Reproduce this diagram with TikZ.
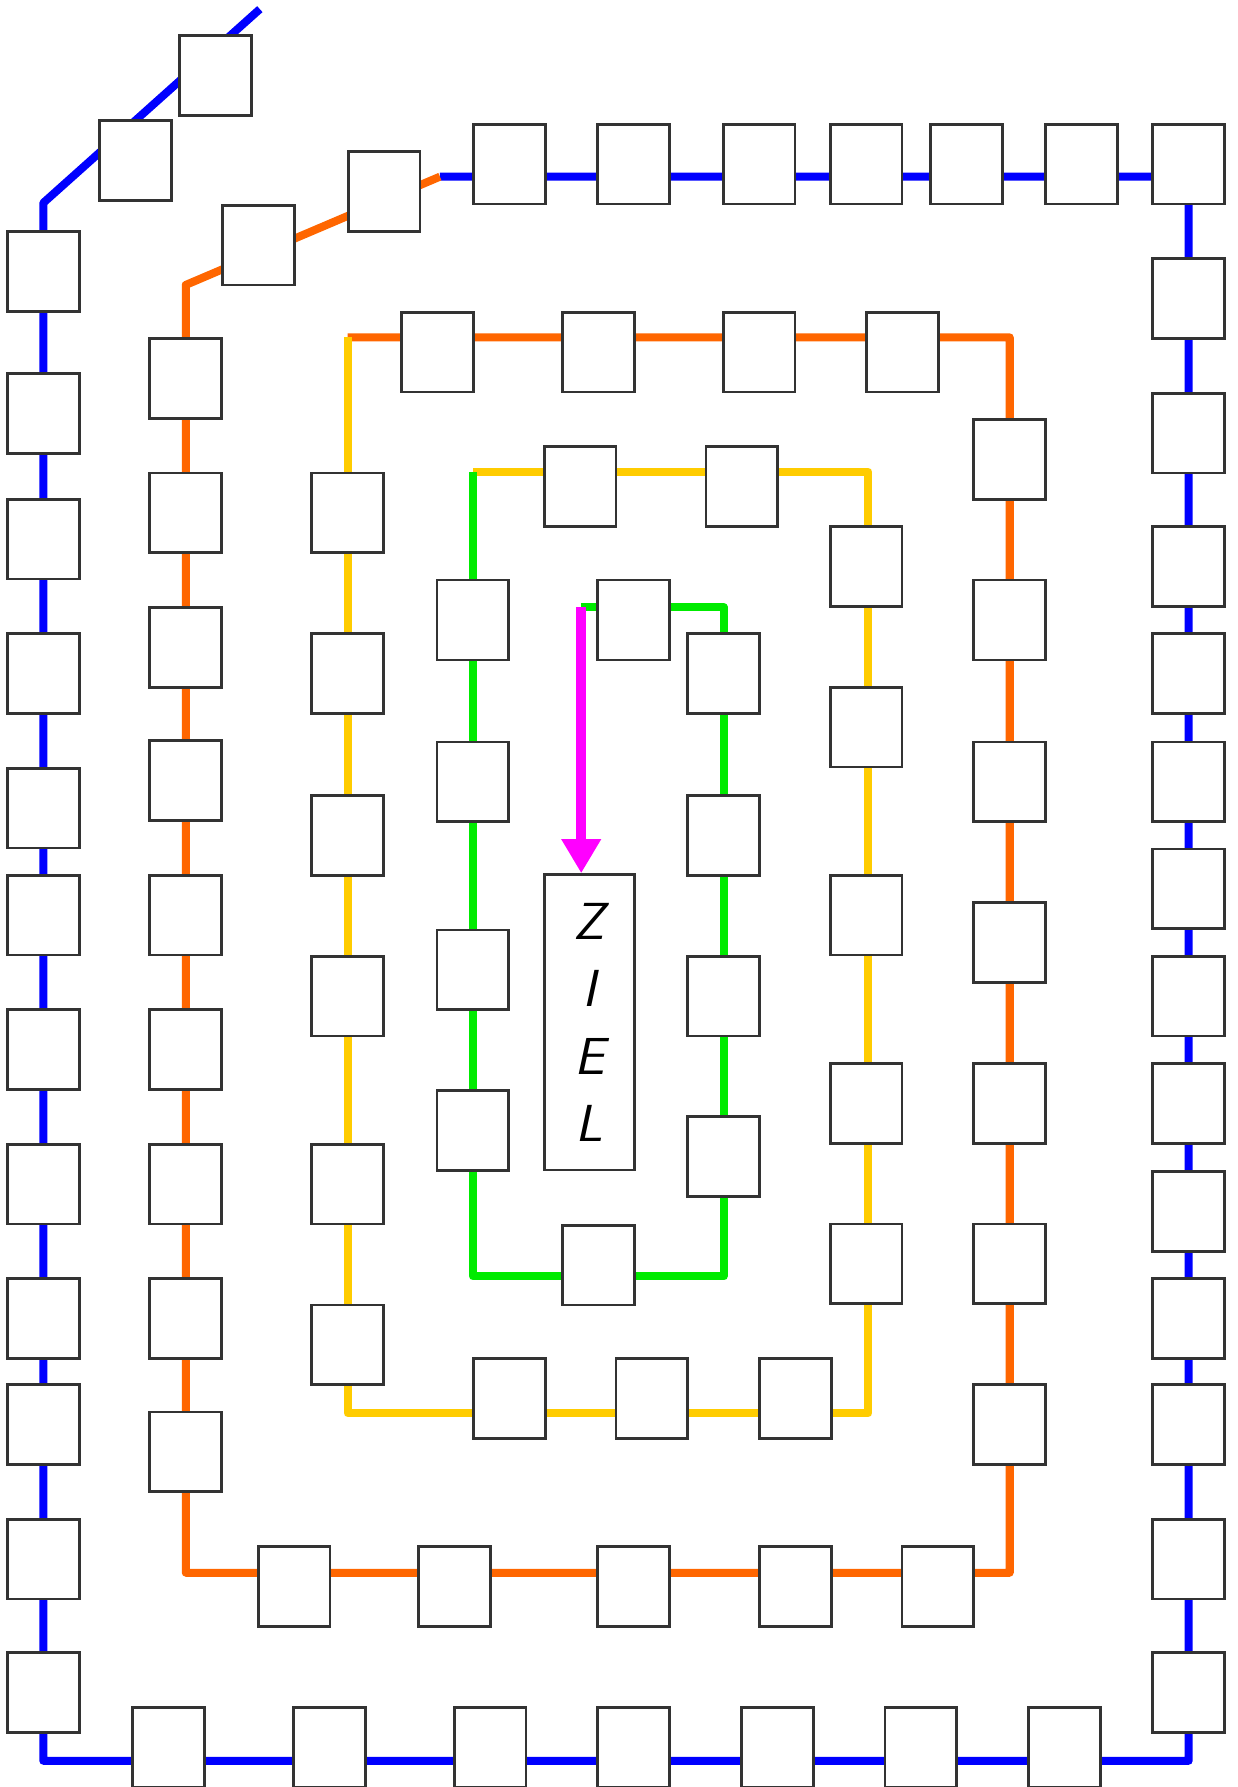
\documentclass[tikz,border=0pt]{standalone}
\usepackage{tikz}
\usetikzlibrary{arrows.meta}
\definecolor{bahnblau}{RGB}{0,0,255}
\definecolor{bahnorange}{RGB}{255,102,0}
\definecolor{bahngelb}{RGB}{255,204,0}
\definecolor{bahngruen}{RGB}{0,235,0}
\definecolor{zielpink}{RGB}{255,0,255}

\begin{document}
\begin{tikzpicture}[x=0.01cm,y=-0.01cm,
    feld/.style={draw=black!80,line width=0.7pt,fill=white,minimum width=6.3mm,minimum height=7mm,inner sep=0pt},
    spur/.style={line width=2pt,line join=round},
    ziel/.style={draw=black!80,line width=0.7pt,fill=white,minimum width=7.9mm,minimum height=25.9mm,inner sep=0pt,align=center,font=\sffamily\itshape\fontsize{13pt}{16.8pt}\selectfont},
    pfeil/.style={zielpink,line width=2.6pt,-{Triangle[width=3.3mm,length=3mm]}}]
  \useasboundingbox (0,0) rectangle (1086,1568);

  % Ecken der Spuren
  \coordinate (b0) at (228,8);
  \coordinate (b1) at (38,178);
  \coordinate (b2) at (38,1545);
  \coordinate (b3) at (1043,1545);
  \coordinate (b4) at (1043,155);
  \coordinate (b5) at (386,155);
  \coordinate (o1) at (163,250);
  \coordinate (o2) at (163,1380);
  \coordinate (o3) at (886,1380);
  \coordinate (o4) at (886,296);
  \coordinate (o5) at (305,296);
  \coordinate (y1) at (305,1240);
  \coordinate (y2) at (762,1240);
  \coordinate (y3) at (762,414);
  \coordinate (y4) at (415,414);
  \coordinate (g1) at (415,1120);
  \coordinate (g2) at (635,1120);
  \coordinate (g3) at (635,533);
  \coordinate (g4) at (510,533);

  \draw[spur,bahnblau] (b0) -- (b1) -- (b2) -- (b3) -- (b4) -- (b5);
  \draw[spur,bahnorange] (b5) -- (o1) -- (o2) -- (o3) -- (o4) -- (o5);
  \draw[spur,bahngelb] (o5) -- (y1) -- (y2) -- (y3) -- (y4);
  \draw[spur,bahngruen] (y4) -- (g1) -- (g2) -- (g3) -- (g4);

  % Felder
  \foreach \x/\y [count=\i] in {189/66,119/141,
      38/238,38/363,38/473,38/591,38/709,38/803,38/921,38/1039,38/1157,38/1250,38/1368,38/1485,
      148/1533,289/1533,430/1533,556/1533,682/1533,808/1533,934/1533,
      1043/1485,1043/1368,1043/1250,1043/1157,1043/1063,1043/968,1043/874,1043/780,1043/686,1043/591,1043/497,1043/380,1043/262,1043/144,
      949/144,848/144,760/144,666/144,556/144,447/144}
    \node[feld] (fb\i) at (\x,\y) {};
  \foreach \x/\y [count=\i] in {337/168,227/215,
      163/332,163/450,163/568,163/685,163/803,163/921,163/1039,163/1157,163/1274,
      258/1392,399/1392,556/1392,698/1392,823/1392,
      886/1250,886/1109,886/968,886/827,886/686,886/544,886/403,
      792/309,666/309,525/309,384/309}
    \node[feld] (fo\i) at (\x,\y) {};
  \foreach \x/\y [count=\i] in {305/450,305/591,305/733,305/874,305/1039,305/1180,
      447/1227,572/1227,698/1227,
      760/1109,760/968,760/803,760/638,760/497,
      651/427,509/427}
    \node[feld] (fy\i) at (\x,\y) {};
  \foreach \x/\y [count=\i] in {415/544,415/686,415/851,415/992,
      525/1110,
      635/1015,635/874,635/733,635/591,
      556/544}
    \node[feld] (fg\i) at (\x,\y) {};

  \node[ziel] (ziel) at (517,897) {Z\\I\\E\\L};
  \draw[pfeil] (g4) -- (g4 |- ziel.north);
\end{tikzpicture}
\end{document}
